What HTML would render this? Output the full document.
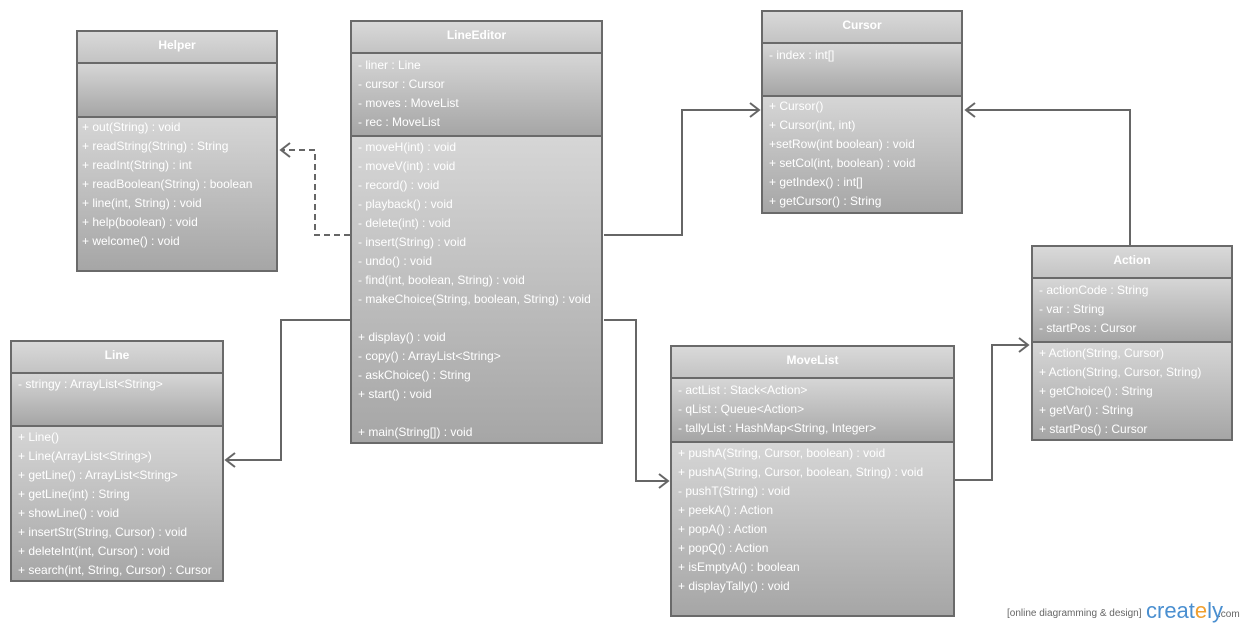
<!DOCTYPE html>
<html><head><meta charset="utf-8"><style>
body{margin:0;width:1245px;height:630px;background:#fff;position:relative;overflow:hidden;font-family:"Liberation Sans",Arial,sans-serif}
.b{position:absolute;border:2px solid #6a6a6a;box-sizing:border-box;background:#aaa}
.c{position:absolute;left:0;right:0;background:linear-gradient(#d6d6d6,#a6a6a6);border-top:2px solid #6a6a6a;box-sizing:border-box}
.h{top:0;border-top:none;color:#fff;font-weight:bold;font-size:12px;text-align:center;line-height:26px;background:linear-gradient(#d9d9d9,#c4c4c4)}
.r{position:absolute;left:6px;color:#fff;font-size:12px;white-space:nowrap;line-height:14px}
svg{position:absolute;left:0;top:0}
</style></head><body>
<svg width="1245" height="630">
<g fill="none" stroke="#666" stroke-width="2">
<path d="M350 235H315V150H282" stroke-dasharray="6,4"/>
<path d="M290 143L281 150L290 157"/>
<path d="M604 235H682V110H759"/><path d="M750 103L759 110L750 117"/>
<path d="M350 320H281V460H226"/><path d="M235 453L226 460L235 467"/>
<path d="M604 320H636V481H668"/><path d="M659 474L668 481L659 488"/>
<path d="M1130 245V110H966"/><path d="M975 103L966 110L975 117"/>
<path d="M954 480H992V345H1028"/><path d="M1019 338L1028 345L1019 352"/>
</g></svg>

<div class="b" style="left:76px;top:30px;width:202px;height:242px">
<div class="c h" style="height:30px">Helper</div>
<div class="c" style="top:30px;height:54px"></div>
<div class="c" style="top:84px;bottom:0"></div>
</div>
<div class="b" style="left:350px;top:20px;width:253px;height:424px">
<div class="c h" style="height:30px">LineEditor</div>
<div class="c" style="top:30px;height:83px"></div>
<div class="c" style="top:113px;bottom:0"></div>
</div>
<div class="b" style="left:761px;top:10px;width:202px;height:204px">
<div class="c h" style="height:30px">Cursor</div>
<div class="c" style="top:30px;height:53px"></div>
<div class="c" style="top:83px;bottom:0"></div>
</div>
<div class="b" style="left:1031px;top:245px;width:202px;height:196px">
<div class="c h" style="height:30px">Action</div>
<div class="c" style="top:30px;height:64px"></div>
<div class="c" style="top:94px;bottom:0"></div>
</div>
<div class="b" style="left:10px;top:340px;width:214px;height:242px">
<div class="c h" style="height:30px">Line</div>
<div class="c" style="top:30px;height:53px"></div>
<div class="c" style="top:83px;bottom:0"></div>
</div>
<div class="b" style="left:670px;top:345px;width:285px;height:272px">
<div class="c h" style="height:30px">MoveList</div>
<div class="c" style="top:30px;height:64px"></div>
<div class="c" style="top:94px;bottom:0"></div>
</div>

<div style="position:absolute;left:76px;top:0">
<div class="r" style="top:120px">+ out(String) : void</div>
<div class="r" style="top:139px">+ readString(String) : String</div>
<div class="r" style="top:158px">+ readInt(String) : int</div>
<div class="r" style="top:177px">+ readBoolean(String) : boolean</div>
<div class="r" style="top:196px">+ line(int, String) : void</div>
<div class="r" style="top:215px">+ help(boolean) : void</div>
<div class="r" style="top:234px">+ welcome() : void</div>
</div>
<div style="position:absolute;left:352px;top:0">
<div class="r" style="top:58px">- liner : Line</div>
<div class="r" style="top:77px">- cursor : Cursor</div>
<div class="r" style="top:96px">- moves : MoveList</div>
<div class="r" style="top:115px">- rec : MoveList</div>
<div class="r" style="top:140px">- moveH(int) : void</div>
<div class="r" style="top:159px">- moveV(int) : void</div>
<div class="r" style="top:178px">- record() : void</div>
<div class="r" style="top:197px">- playback() : void</div>
<div class="r" style="top:216px">- delete(int) : void</div>
<div class="r" style="top:235px">- insert(String) : void</div>
<div class="r" style="top:254px">- undo() : void</div>
<div class="r" style="top:273px">- find(int, boolean, String) : void</div>
<div class="r" style="top:292px">- makeChoice(String, boolean, String) : void</div>
<div class="r" style="top:330px">+ display() : void</div>
<div class="r" style="top:349px">- copy() : ArrayList&lt;String&gt;</div>
<div class="r" style="top:368px">- askChoice() : String</div>
<div class="r" style="top:387px">+ start() : void</div>
<div class="r" style="top:425px">+ main(String[]) : void</div>
</div>
<div style="position:absolute;left:763px;top:0">
<div class="r" style="top:48px">- index : int[]</div>
<div class="r" style="top:99px">+ Cursor()</div>
<div class="r" style="top:118px">+ Cursor(int, int)</div>
<div class="r" style="top:137px">+setRow(int boolean) : void</div>
<div class="r" style="top:156px">+ setCol(int, boolean) : void</div>
<div class="r" style="top:175px">+ getIndex() : int[]</div>
<div class="r" style="top:194px">+ getCursor() : String</div>
</div>
<div style="position:absolute;left:1033px;top:0">
<div class="r" style="top:283px">- actionCode : String</div>
<div class="r" style="top:302px">- var : String</div>
<div class="r" style="top:321px">- startPos : Cursor</div>
<div class="r" style="top:346px">+ Action(String, Cursor)</div>
<div class="r" style="top:365px">+ Action(String, Cursor, String)</div>
<div class="r" style="top:384px">+ getChoice() : String</div>
<div class="r" style="top:403px">+ getVar() : String</div>
<div class="r" style="top:422px">+ startPos() : Cursor</div>
</div>
<div style="position:absolute;left:12px;top:0">
<div class="r" style="top:377px">- stringy : ArrayList&lt;String&gt;</div>
<div class="r" style="top:430px">+ Line()</div>
<div class="r" style="top:449px">+ Line(ArrayList&lt;String&gt;)</div>
<div class="r" style="top:468px">+ getLine() : ArrayList&lt;String&gt;</div>
<div class="r" style="top:487px">+ getLine(int) : String</div>
<div class="r" style="top:506px">+ showLine() : void</div>
<div class="r" style="top:525px">+ insertStr(String, Cursor) : void</div>
<div class="r" style="top:544px">+ deleteInt(int, Cursor) : void</div>
<div class="r" style="top:563px">+ search(int, String, Cursor) : Cursor</div>
</div>
<div style="position:absolute;left:672px;top:0">
<div class="r" style="top:383px">- actList : Stack&lt;Action&gt;</div>
<div class="r" style="top:402px">- qList : Queue&lt;Action&gt;</div>
<div class="r" style="top:421px">- tallyList : HashMap&lt;String, Integer&gt;</div>
<div class="r" style="top:446px">+ pushA(String, Cursor, boolean) : void</div>
<div class="r" style="top:465px">+ pushA(String, Cursor, boolean, String) : void</div>
<div class="r" style="top:484px">- pushT(String) : void</div>
<div class="r" style="top:503px">+ peekA() : Action</div>
<div class="r" style="top:522px">+ popA() : Action</div>
<div class="r" style="top:541px">+ popQ() : Action</div>
<div class="r" style="top:560px">+ isEmptyA() : boolean</div>
<div class="r" style="top:579px">+ displayTally() : void</div>
</div>

<div style="position:absolute;left:1007px;top:608px;font-size:10px;color:#666">[online diagramming &amp; design]</div>
<div style="position:absolute;left:1146px;top:598px;font-size:22px;color:#4a8fd0">creat<span style="color:#f0a030">e</span>ly</div>
<div style="position:absolute;left:1218px;top:609px;font-size:10px;color:#666">.com</div>
</body></html>
